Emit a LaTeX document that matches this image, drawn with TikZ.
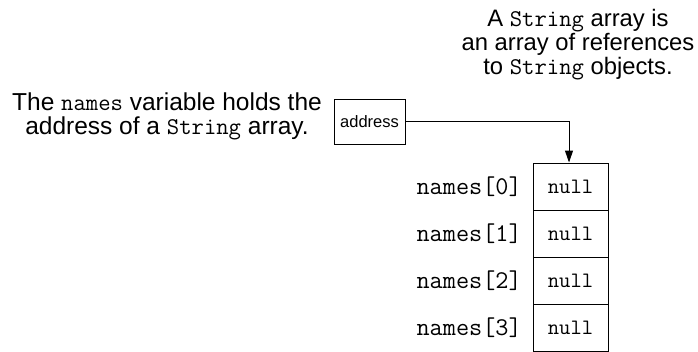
\documentclass[tikz,border=0pt]{standalone}
\usepackage{fontspec}
\setmainfont{Liberation Sans}
\usetikzlibrary{arrows.meta}

\begin{document}
\begin{tikzpicture}[x=1pt,y=-1pt,line width=1pt,
  note/.style={align=center,font=\fontsize{24.5}{24}\selectfont},
  cell/.style={draw,minimum width=75pt,minimum height=47pt,inner sep=0pt,
    font=\fontsize{22}{22}\ttfamily},
  idx/.style={anchor=east,font=\fontsize{25.5}{25.5}\ttfamily}]
\useasboundingbox (0,0) rectangle (698,351);
\clip (0,0) rectangle (698,351);
\newcommand\code[1]{{\fontsize{24}{24}\ttfamily #1}}

\node[note] (varnote) at (167,116) {The \code{names} variable holds the\\address of a \code{String} array.};
\node[note,font=\fontsize{23.8}{24}\selectfont,inner xsep=0pt] (arrnote) at (578,45) {A \code{String} array is\\an array of references\\to \code{String} objects.};

\node[draw,minimum width=71pt,minimum height=45pt,inner sep=0pt,
  font=\fontsize{16.5}{16.5}\selectfont] (addr) at (369.5,121.5) {address};

% the array, last cell runs off the bottom
\foreach \i in {0,...,3} {
  \node[cell] (c\i) at (570.5,186.5+47*\i) {null};
  \node[idx] (n\i) at ([xshift=-7pt]c\i.west) {names[\i]};
}

\draw[-{Stealth[length=12pt,width=8pt,inset=0pt]}] (addr.east) -| ([xshift=-1.5pt]c0.north);
\end{tikzpicture}
\end{document}
